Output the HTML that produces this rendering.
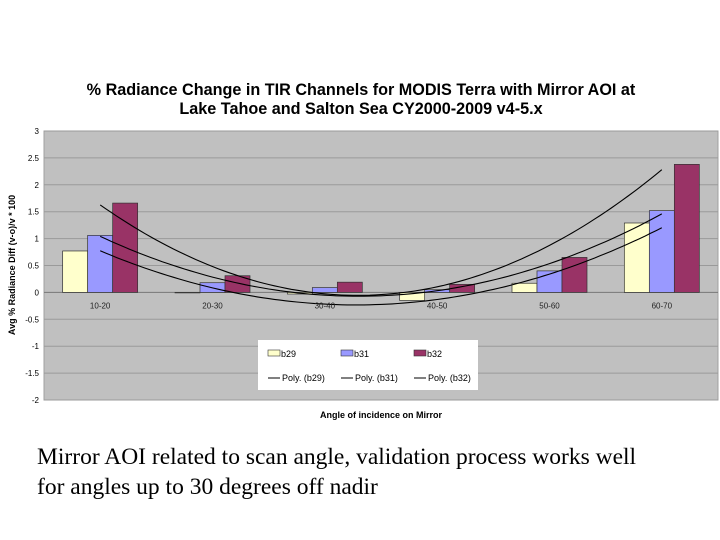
<!DOCTYPE html>
<html><head><meta charset="utf-8"><style>
body{margin:0;background:#fff;width:720px;height:540px;overflow:hidden;font-family:"Liberation Sans",sans-serif}
.cap{position:absolute;left:37px;font-family:"Liberation Serif",serif;font-size:23.5px;color:#000;white-space:nowrap}
</style></head><body>
<svg width="720" height="430" style="position:absolute;left:0;top:0" id="svg">
<text x="361" y="95" text-anchor="middle" font-size="16.2" font-weight="bold">% Radiance Change in TIR Channels for MODIS Terra with Mirror AOI at</text>
<text x="361" y="114" text-anchor="middle" font-size="16.2" font-weight="bold">Lake Tahoe and Salton Sea CY2000-2009 v4-5.x</text>
<rect x="44" y="131" width="674" height="269" fill="#c0c0c0" stroke="#a0a0a0"/>
<g id="grid"></g><g id="bars"></g><g id="trends"></g><g id="axes"></g>
<text transform="translate(15,265) rotate(-90)" text-anchor="middle" font-size="9" font-weight="bold">Avg % Radiance Diff (v-o)/v * 100</text>
<text x="381" y="418" text-anchor="middle" font-size="9" font-weight="bold">Angle of incidence on Mirror</text>
<g>
<rect x="258" y="340" width="220" height="50" fill="#fff"/>
<rect x="268" y="350" width="12" height="6" fill="#ffffcc" stroke="#333" stroke-width="0.6"/><text x="281" y="357" font-size="9">b29</text>
<rect x="341" y="350" width="12" height="6" fill="#9999ff" stroke="#333" stroke-width="0.6"/><text x="354" y="357" font-size="9">b31</text>
<rect x="414" y="350" width="12" height="6" fill="#993366" stroke="#333" stroke-width="0.6"/><text x="427" y="357" font-size="9">b32</text>
<line x1="268" y1="378" x2="280" y2="378" stroke="#000"/><text x="282" y="381" font-size="9">Poly. (b29)</text>
<line x1="341" y1="378" x2="353" y2="378" stroke="#000"/><text x="355" y="381" font-size="9">Poly. (b31)</text>
<line x1="414" y1="378" x2="426" y2="378" stroke="#000"/><text x="428" y="381" font-size="9">Poly. (b32)</text>
</g>
</svg>
<div class="cap" style="top:444px">Mirror AOI related to scan angle, validation process works well</div>
<div class="cap" style="top:474px">for angles up to 30 degrees off nadir</div>
<script>
const categories=["10-20","20-30","30-40","40-50","50-60","60-70"];
const b29=[0.77,0.0,-0.03,-0.15,0.17,1.29];
const b31=[1.06,0.18,0.09,0.05,0.40,1.52];
const b32=[1.66,0.31,0.19,0.15,0.65,2.38];
const yTicks=[3,2.5,2,1.5,1,0.5,0,-0.5,-1,-1.5,-2];
const NS="http://www.w3.org/2000/svg";
const L=44,R=718,T=131,B=400,yMin=-2,yMax=3;
const bw=(R-L)/categories.length;
const y=v=>T+(yMax-v)/(yMax-yMin)*(B-T);
const xc=i=>L+bw*(i+0.5);
function mk(tag,at,parent){const e=document.createElementNS(NS,tag);for(const k in at)e.setAttribute(k,at[k]);document.getElementById(parent).appendChild(e);return e;}
yTicks.forEach(t=>{
 const g=mk('line',{x1:L,x2:R,y1:y(t),y2:y(t),stroke:t===0?'#777':'#9a9a9a','stroke-width':1},'grid');
 
 
 const tx=mk('text',{x:L-5,y:y(t)+3,'text-anchor':'end','font-size':8},'axes');
 tx.textContent=t;
 
 
});
const series=[[b29,'#ffffcc','b29'],[b31,'#9999ff','b31'],[b32,'#993366','b32']];
const w=25;
categories.forEach((c,i)=>{
 series.forEach((s,j)=>{
  const v=s[0][i];const x0=xc(i)-1.5*w+j*w;
  const r=mk('rect',{x:x0,y:Math.min(y(v),y(0)),width:w,height:Math.max(0.5,Math.abs(y(v)-y(0))),fill:s[1],stroke:'#333','stroke-width':0.7},'bars');
  
  
 });
 const tx=mk('text',{x:xc(i),y:y(0)+16,'text-anchor':'middle','font-size':8,fill:'#222'},'axes');
 tx.textContent=c;
 
 
});
function quadFit(v){
 let S=[0,0,0,0,0],Sy=[0,0,0];
 v.forEach((yy,i)=>{const x=i+1;for(let k=0;k<5;k++)S[k]+=Math.pow(x,k);for(let k=0;k<3;k++)Sy[k]+=yy*Math.pow(x,k);});
 const M=[[S[0],S[1],S[2],Sy[0]],[S[1],S[2],S[3],Sy[1]],[S[2],S[3],S[4],Sy[2]]];
 for(let i=0;i<3;i++){for(let k=i+1;k<3;k++){const f=M[k][i]/M[i][i];for(let j=i;j<4;j++)M[k][j]-=f*M[i][j];}}
 const c=[0,0,0];for(let i=2;i>=0;i--){let s=M[i][3];for(let j=i+1;j<3;j++)s-=M[i][j]*c[j];c[i]=s/M[i][i];}
 return c;
}
series.forEach(s=>{
 const c=quadFit(s[0]);let d='';
 for(let k=0;k<=100;k++){const x=1+5*k/100;const v=c[0]+c[1]*x+c[2]*x*x;d+=(k?'L':'M')+(L+bw*(x-0.5)).toFixed(1)+','+y(v).toFixed(1);}
 const p=mk('path',{d:d,fill:'none',stroke:'#000','stroke-width':1.1},'trends');
 
 
});
</script>
</body></html>
